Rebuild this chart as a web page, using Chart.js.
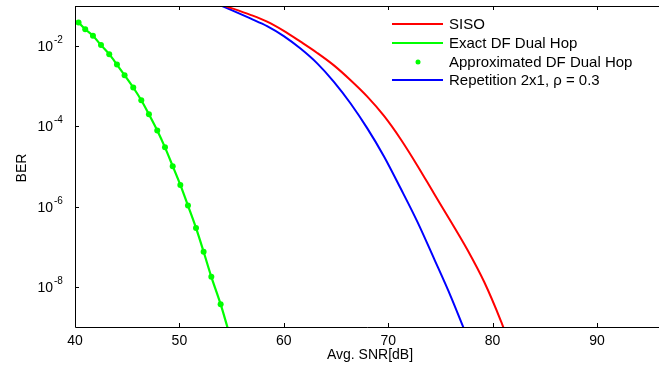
<!DOCTYPE html>
<html>
  <head>
    <meta charset="utf-8" />
    <script src="https://cdn.jsdelivr.net/npm/chart.js"></script>
    <style>
      body { margin: 0; background: #fff; }
    </style>
  </head>
  <body>
    <canvas id="berChart" width="659" height="365"></canvas>
    <script>
      // values
      const sisoSnr = [54.4, 56.8, 58.4, 60.0, 61.6, 63.2, 64.8, 66.4, 68.0, 69.6, 71.2, 72.8, 74.4, 76.0, 77.6, 79.2, 80.8, 81.05];
      const sisoBer = [1e-1, 6.03e-2, 4.07e-2, 2.4e-2, 1.29e-2, 6.76e-3, 3.31e-3, 1.41e-3, 5.5e-4, 1.82e-4, 4.79e-5, 1.05e-5, 2.09e-6, 4.27e-7, 8.3e-8, 1.32e-8, 1.41e-9, 9.5e-10];

      const dfSnr = [40.34, 40.98, 41.72, 42.49, 43.28, 44.02, 44.75, 45.58, 46.35, 47.08, 47.88, 48.62, 49.36, 50.09, 50.82, 51.59, 52.32, 53.06, 53.95];
      const dfBer = [3.89e-2, 2.63e-2, 1.82e-2, 1.06e-2, 6.3e-3, 3.47e-3, 1.88e-3, 9.3e-4, 4.47e-4, 2.0e-4, 7.9e-5, 3.0e-5, 1.02e-5, 3.47e-6, 1.06e-6, 2.95e-7, 7.5e-8, 1.78e-8, 3.7e-9];
      const exactSnr = dfSnr.concat([54.62]);
      const exactBer = dfBer.concat([9.5e-10]);

      const repSnr = [54.1, 56.8, 58.4, 60.0, 61.6, 63.2, 64.8, 66.4, 68.0, 69.6, 71.2, 72.8, 74.4, 76.0, 77.22];
      const repBer = [1e-1, 4.9e-2, 3.16e-2, 1.78e-2, 8.7e-3, 3.72e-3, 1.29e-3, 3.72e-4, 8.9e-5, 1.78e-5, 2.82e-6, 4.17e-7, 5.0e-8, 5.75e-9, 9.5e-10];

      const xTicks = [40, 50, 60, 70, 80, 90];
      const yTicks = [1e-2, 1e-4, 1e-6, 1e-8];
      const yTickExp = ["-2", "-4", "-6", "-8"];

      const pts = (xs, ys) => xs.map((x, i) => ({ x, y: ys[i] }));
      const FONT = "'Liberation Sans', Arial, sans-serif";

      const frame = {
        id: "frame",
        afterDraw(chart) {
          const { ctx, chartArea: a, scales } = chart;
          const x = scales.x, y = scales.y;
          ctx.save();
          ctx.strokeStyle = "#000";
          ctx.lineWidth = 1;
          ctx.beginPath();
          ctx.moveTo(a.left + 0.5, a.top + 0.5);
          ctx.lineTo(a.left + 0.5, a.bottom + 0.5);
          ctx.lineTo(a.right, a.bottom + 0.5);
          ctx.moveTo(a.left, a.top + 0.5);
          ctx.lineTo(a.right, a.top + 0.5);
          // inward ticks
          xTicks.forEach((v) => {
            const px = Math.round(x.getPixelForValue(v)) + 0.5;
            ctx.moveTo(px, a.bottom);
            ctx.lineTo(px, a.bottom - 4);
            ctx.moveTo(px, a.top);
            ctx.lineTo(px, a.top + 4);
          });
          yTicks.forEach((v) => {
            const py = Math.round(y.getPixelForValue(v)) + 0.5;
            ctx.moveTo(a.left, py);
            ctx.lineTo(a.left + 4, py);
          });
          ctx.stroke();

          // y tick labels 10^n
          ctx.fillStyle = "#000";
          yTicks.forEach((v, i) => {
            const py = y.getPixelForValue(v);
            ctx.font = "14px " + FONT;
            ctx.textAlign = "right";
            ctx.textBaseline = "alphabetic";
            ctx.fillText("10", 53, py + 5);
            ctx.font = "10px " + FONT;
            ctx.textAlign = "left";
            ctx.fillText(yTickExp[i], 54, py - 3);
          });

          // axis titles
          ctx.font = "14px " + FONT;
          ctx.textAlign = "center";
          ctx.textBaseline = "middle";
          ctx.fillText("Avg. SNR[dB]", 370, 355);
          ctx.save();
          ctx.translate(22, 168);
          ctx.rotate(-Math.PI / 2);
          ctx.fillText("BER", 0, 0);
          ctx.restore();

          // legend
          const rows = [24, 43, 62, 80];
          ctx.font = "15px " + FONT;
          ctx.textAlign = "left";
          ctx.textBaseline = "middle";
          chart.data.datasets.forEach((ds, i) => {
            const ry = rows[i];
            if (ds.showLine === false) {
              ctx.fillStyle = ds.pointBackgroundColor;
              ctx.beginPath();
              ctx.arc(418, ry, 2.5, 0, Math.PI * 2);
              ctx.fill();
            } else {
              ctx.strokeStyle = ds.borderColor;
              ctx.lineWidth = 2;
              ctx.beginPath();
              ctx.moveTo(392, ry);
              ctx.lineTo(443, ry);
              ctx.stroke();
            }
            ctx.fillStyle = "#000";
            ctx.fillText(ds.label, 449, ry + 1);
          });
          ctx.restore();
        },
      };

      new Chart(document.getElementById("berChart"), {
        type: "line",
        data: {
          datasets: [
            {
              label: "SISO",
              data: pts(sisoSnr, sisoBer),
              borderColor: "#ff0000",
              borderWidth: 2,
              pointRadius: 0,
              cubicInterpolationMode: "monotone",
            },
            {
              label: "Exact DF Dual Hop",
              data: pts(exactSnr, exactBer),
              borderColor: "#00ff00",
              borderWidth: 2.2,
              pointRadius: 0,
              cubicInterpolationMode: "monotone",
            },
            {
              label: "Approximated DF Dual Hop",
              data: pts(dfSnr, dfBer),
              showLine: false,
              pointRadius: 3,
              pointBackgroundColor: "#00ff00",
              pointBorderColor: "#00ff00",
              pointBorderWidth: 0,
            },
            {
              label: "Repetition 2x1, ρ = 0.3",
              data: pts(repSnr, repBer),
              borderColor: "#0000ff",
              borderWidth: 2,
              pointRadius: 0,
              cubicInterpolationMode: "monotone",
            },
          ],
        },
        options: {
          responsive: false,
          animation: false,
          layout: { autoPadding: false, padding: { left: 0, top: 6, right: 0, bottom: 0 } },
          plugins: { legend: { display: false }, tooltip: { enabled: false } },
          scales: {
            x: {
              type: "linear",
              min: 40,
              max: 95.94,
              afterBuildTicks: (s) => { s.ticks = xTicks.map((v) => ({ value: v })); },
              afterFit: (s) => { s.height = 38; s.paddingRight = 0; s.paddingLeft = 0; },
              grid: { display: false, drawTicks: false },
              border: { display: false },
              ticks: {
                color: "#000",
                padding: 6,
                maxRotation: 0,
                font: { family: FONT, size: 14 },
              },
            },
            y: {
              type: "logarithmic",
              min: 1e-9,
              max: 1e-1,
              afterBuildTicks: (s) => { s.ticks = yTicks.map((v) => ({ value: v })); },
              afterFit: (s) => { s.width = 75; s.paddingTop = 0; s.paddingBottom = 0; },
              grid: { display: false, drawTicks: false },
              border: { display: false },
              ticks: { display: false },
            },
          },
        },
        plugins: [frame],
      });
    </script>
  </body>
</html>
